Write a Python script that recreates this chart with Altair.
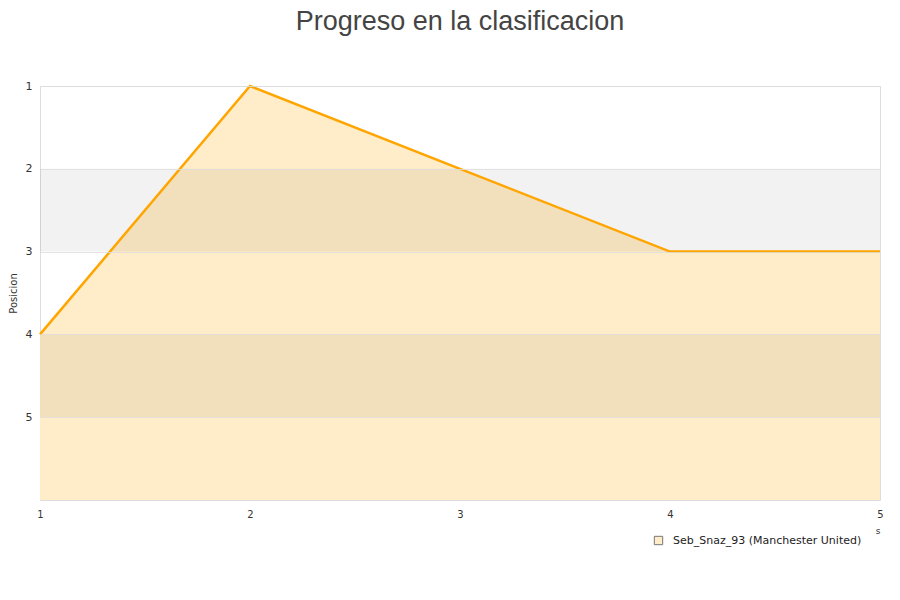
import altair as alt
import pandas as pd

jornadas = [1, 2, 3, 4, 5]
posiciones = [4, 1, 2, 3, 3]
serie = "Seb_Snaz_93 (Manchester United)"
band_start = [2, 4]
band_end = [3, 5]

df = pd.DataFrame({"jornada": jornadas, "pos": posiciones, "base": [6] * len(jornadas), "serie": [serie] * len(jornadas)})
bands = pd.DataFrame({"y1": band_start, "y2": band_end})

xs = alt.Scale(domain=[1, 5], nice=False, zero=False)
ys = alt.Scale(domain=[1, 6], reverse=True, nice=False, zero=False)

area = alt.Chart(df).mark_area().encode(
    x=alt.X("jornada:Q", scale=xs,
            axis=alt.Axis(values=jornadas, format="d", grid=False, ticks=False, domain=False,
                          labelFontSize=10, labelColor="#333", labelPadding=9, labelFlush=False,
                          title="s", titleAnchor="end", titleFontSize=9, titleFontWeight="normal",
                          titleColor="#333", titlePadding=7)),
    y=alt.Y("pos:Q", scale=ys,
            axis=alt.Axis(values=[1, 2, 3, 4, 5], format="d", grid=True, gridColor="#dddddd",
                          gridOpacity=0.8, zindex=1,
                          ticks=False, domain=False, labelFontSize=11, labelColor="#333",
                          labelPadding=8, title="Posicion", titleFontSize=10,
                          titleFontWeight="normal", titleColor="#333", titlePadding=7)),
    y2="base:Q",
    fill=alt.Fill("serie:N", scale=alt.Scale(range=["#ffecc8"]),
                  legend=alt.Legend(title=None, orient="none", legendX=613, legendY=449,
                                    symbolType="square", symbolSize=70, labelFontSize=11,
                                    symbolStrokeColor="#777777", symbolStrokeWidth=1,
                                    labelColor="#222", labelOffset=9, labelLimit=0)),
)

band_layer = alt.Chart(bands).mark_rect(color="black", opacity=0.05).encode(
    x=alt.value(0), x2=alt.value(840),
    y=alt.Y("y1:Q", scale=ys), y2="y2:Q",
)

line = alt.Chart(df).mark_line(color="orange", strokeWidth=2.5).encode(
    x=alt.X("jornada:Q", scale=xs),
    y=alt.Y("pos:Q", scale=ys),
)

chart = alt.layer(area, band_layer, line).properties(
    width=840, height=414,
    title=alt.TitleParams("Progreso en la clasificacion", fontSize=27, font="Liberation Sans",
                          fontWeight="normal", color="#444", anchor="middle", offset=44),
    autosize=alt.AutoSizeParams(type="none"),
    padding={"left": 32, "top": 78, "right": 12, "bottom": 90},
).configure_view(stroke="#dddddd").configure(font="DejaVu Sans")

chart.save("out.html", embed_options={"renderer": "svg", "actions": False})
